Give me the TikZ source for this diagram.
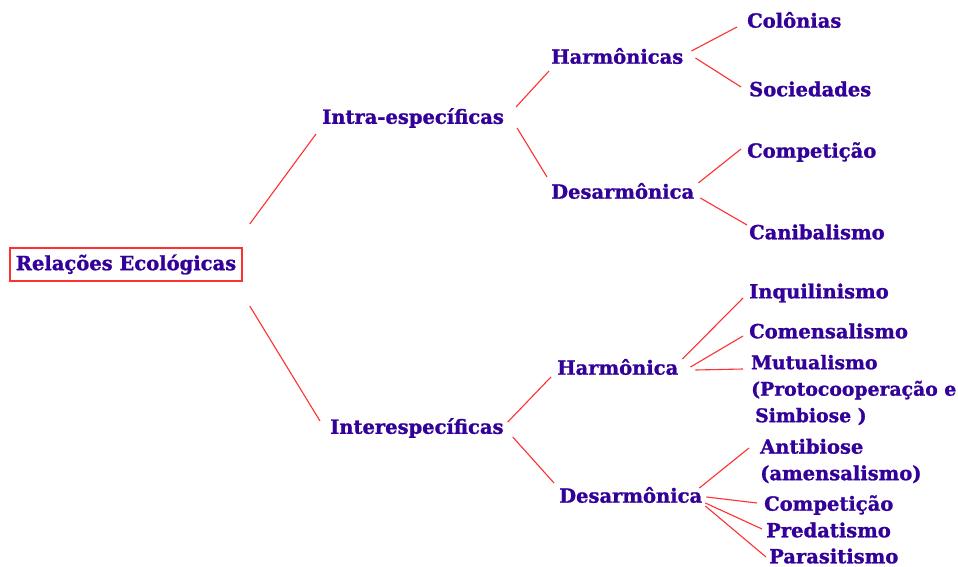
\documentclass[tikz,border=0pt]{standalone}
\usepackage{fontspec}
\setmainfont{DejaVu Serif}[BoldFeatures={FakeBold=1.2}]
\definecolor{txt}{HTML}{330099}
\definecolor{lnk}{HTML}{FF3030}
\begin{document}
\begin{tikzpicture}[x=1pt,y=-1pt,
  lbl/.style={anchor=west,inner sep=0pt,text=txt,
    font=\bfseries\fontsize{19.5}{26.5}\selectfont,align=left},
  link/.style={draw=lnk,line width=1.1pt}]
\useasboundingbox[fill=white] (0,0) rectangle (958,567);

% root of the tree
\node[draw=lnk,line width=1.5pt,minimum width=232pt,minimum height=33pt,
  inner sep=0pt,text=txt,font=\bfseries\fontsize{19.5}{22}\selectfont]
  (root) at (126,264.5) {Relações Ecológicas};

% first level
\node[lbl] (intra) at (322,118) {Intra-específicas};
\node[lbl] (inter) at (330,428) {Interespecíficas};

% second level
\node[lbl] (harm1) at (551,56)  {Harmônicas};
\node[lbl] (desa1) at (551,191) {Desarmônica};
\node[lbl] (harm2) at (557,367) {Harmônica};
\node[lbl] (desa2) at (559,495) {Desarmônica};

% leaves
\node[lbl] (col)   at (747,20)  {Colônias};
\node[lbl] (soc)   at (749,89)  {Sociedades};
\node[lbl] (comp1) at (747,152) {Competição};
\node[lbl] (can)   at (749,232) {Canibalismo};
\node[lbl] (inq)   at (749,293) {Inquilinismo};
\node[lbl] (com)   at (749,331) {Comensalismo};
\node[lbl,font=\bfseries\fontsize{18.8}{26.5}\selectfont]
  (mut)   at (751,390) {Mutualismo\\(Protocooperação e\\\hspace{4pt}Simbiose )};
\node[lbl] (antib) at (760,461) {Antibiose\\(amensalismo)};
\node[lbl] (comp2) at (764,505) {Competição};
\node[lbl] (pred)  at (766,530) {Predatismo};
\node[lbl] (para)  at (769,556) {Parasitismo};

% connectors
\draw[link] ([shift={(7,-40.5)}]root.east) -- ([shift={(-6,16)}]intra.west);
\draw[link] ([shift={(7,41.5)}]root.east)  -- ([shift={(-10,-7)}]inter.west);

\draw[link] ([shift={(12,-11)}]intra.east) -- ([shift={(-2,15)}]harm1.west);
\draw[link] ([shift={(13,10)}]intra.east)  -- ([shift={(-4,-14)}]desa1.west);
\draw[link] ([shift={(4,-6)}]inter.east)   -- ([shift={(-6,10)}]harm2.west);
\draw[link] ([shift={(9,9)}]inter.east)    -- ([shift={(-5,-12)}]desa2.west);

\draw[link] ([shift={(8,-5)}]harm1.east) -- ([shift={(-10,7)}]col.west);
\draw[link] ([shift={(12,2)}]harm1.east) -- ([shift={(-8,-2)}]soc.west);
\draw[link] ([shift={(4,-8)}]desa1.east) -- ([shift={(-6,-3)}]comp1.west);
\draw[link] ([shift={(6,7)}]desa1.east)  -- ([shift={(-2,-7)}]can.west);

\draw[link] ([shift={(4,-8)}]harm2.east) -- ([shift={(-6,5)}]inq.west);
\draw[link] ([shift={(12,0)}]harm2.east) -- ([shift={(-6,5)}]com.west);
\draw[link] ([shift={(17,3)}]harm2.east) -- ([shift={(-8,-21)}]mut.west);

\draw[link] ([shift={(-3,-7)}]desa2.east) -- ([shift={(-11,-13)}]antib.west);
\draw[link] ([shift={(4,2)}]desa2.east)   -- ([shift={(-7,-2)}]comp2.west);
\draw[link] ([shift={(3,8)}]desa2.east)   -- ([shift={(-4,-1)}]pred.west);
\draw[link] ([shift={(3,11)}]desa2.east)  -- ([shift={(-3,1)}]para.west);
\end{tikzpicture}
\end{document}
